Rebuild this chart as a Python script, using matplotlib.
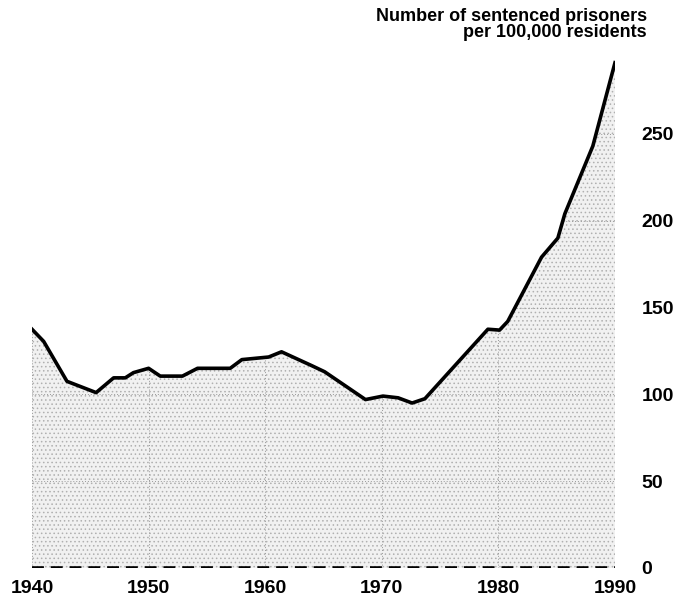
#!/usr/bin/env python3

import matplotlib
matplotlib.use('Agg')
import matplotlib.pyplot as plt

# sentenced prisoners per 100,000 residents
years = [1940, 1941, 1943, 1945.5, 1947, 1948, 1948.7, 1950, 1951, 1952.9,
         1954.2, 1957, 1958, 1960.3, 1961.4, 1964, 1965.1, 1968.6, 1970.1,
         1971.4, 1972.6, 1973.7, 1979.1, 1980.1, 1980.8, 1983.7, 1985.1,
         1985.7, 1988.1, 1990]
rate = [137.5, 130.5, 107.5, 101, 109.5, 109.5, 112.5, 115, 110.5, 110.5,
        115, 115, 120, 121.5, 124.5, 116.5, 113, 97, 99,
        98, 95, 97.5, 137.5, 137, 142, 179, 190,
        204, 243, 291]

xticks = [1940, 1950, 1960, 1970, 1980, 1990]
yticks = [0, 50, 100, 150, 200, 250]
title = "Number of sentenced prisoners\nper 100,000 residents"

plt.rcParams['font.family'] = ['Liberation Sans', 'DejaVu Sans']
plt.rcParams['hatch.color'] = '#b0b0b0'
plt.rcParams['hatch.linewidth'] = 0.6

fig = plt.figure(figsize=(6.91, 5.97), dpi=100)
ax = fig.add_axes([0.0463, 0.0486, 0.8437, 0.858])

fill = ax.fill_between(years, 0, rate, facecolor='#f1f1f1', edgecolor='none',
                       hatch='....', zorder=1)
ax.plot(years, rate, color='black', lw=2.6, solid_joinstyle='round', zorder=3)
ax.plot([xticks[0], xticks[-1]], [0, 0], color='black', lw=2.6,
        dashes=(3.3, 1.9), zorder=3)

ax.set_xlim(1940, 1990)
ax.set_ylim(0, 295)
ax.set_xticks(xticks)
ax.set_yticks(yticks)
ax.yaxis.tick_right()
ax.tick_params(length=0, labelsize=14)
ax.tick_params(axis='x', pad=8.5)
ax.tick_params(axis='y', pad=19)
for lab in ax.get_xticklabels() + ax.get_yticklabels():
    lab.set_fontweight('bold')

ax.grid(True, color='#9a9a9a', ls=(0, (1, 2)), lw=0.7, zorder=2)
for gl in ax.get_xgridlines() + ax.get_ygridlines():
    gl.set_clip_path(fill.get_paths()[0], ax.transData)

for s in ax.spines.values():
    s.set_visible(False)

fig.text(0.936, 0.987, title, ha='right', va='top', fontsize=13,
         fontweight='bold', linespacing=0.95)

fig.savefig('out.png', dpi=100)
